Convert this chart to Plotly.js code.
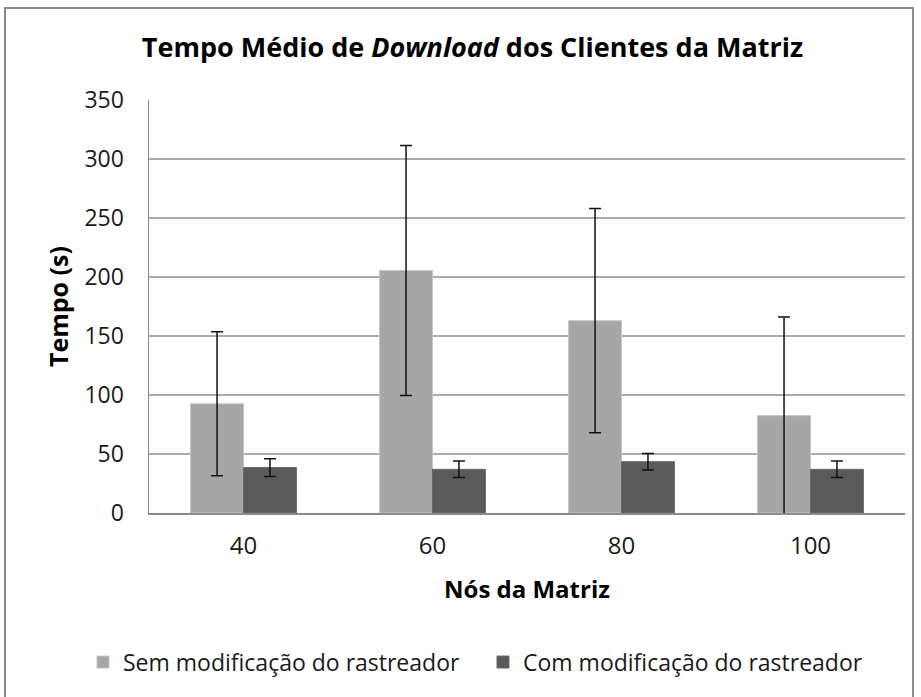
<!DOCTYPE html>
<html>
<head>
<meta charset="utf-8">
<script src="https://cdn.plot.ly/plotly-3.0.1.min.js"></script>
<style>
html,body{margin:0;padding:0;background:#fff;}
#chart{width:921px;height:697px;}
</style>
</head>
<body>
<div id="chart"></div>
<script>
var categories = ['40', '60', '80', '100'];
var semModificacao = [92.5, 205.5, 163, 82.5];
var semModificacaoErro = [61, 106, 95, 83.5];
var comModificacao = [38.5, 37, 43.5, 37];
var comModificacaoErro = [7.5, 7, 7, 7];
var serieNomes = ['Sem modificação do rastreador', 'Com modificação do rastreador'];

var FONT = '"Open Sans", "Noto Sans", sans-serif';

var traces = [
  {
    type: 'bar', name: serieNomes[0], x: categories, y: semModificacao,
    marker: {color: '#a6a6a6', line: {color: '#c4c4c4', width: 1}},
    error_y: {type: 'data', array: semModificacaoErro, visible: true, color: '#111', thickness: 1.5, width: 6}
  },
  {
    type: 'bar', name: serieNomes[1], x: categories, y: comModificacao,
    marker: {color: '#5a5a5a', line: {color: '#6a6a6a', width: 1}},
    error_y: {type: 'data', array: comModificacaoErro, visible: true, color: '#111', thickness: 1.5, width: 6}
  }
];

var layout = {
  width: 921, height: 697,
  margin: {l: 149, r: 16, t: 100, b: 184},
  paper_bgcolor: '#fff', plot_bgcolor: '#fff',
  font: {family: FONT, color: '#1a1a1a'},
  title: {
    text: '<b>Tempo Médio de <i>Download</i> dos Clientes da Matriz</b>',
    font: {family: FONT, size: 27, color: '#000'},
    x: 0.513, xref: 'container', xanchor: 'center',
    y: 1 - 48 / 697, yref: 'container', yanchor: 'middle'
  },
  barmode: 'group', bargap: 0.44, bargroupgap: 0,
  showlegend: true,
  legend: {
    orientation: 'h', x: (83 - 149) / 756, xanchor: 'left', y: -0.361, yanchor: 'middle',
    font: {family: FONT, size: 23, color: '#1a1a1a'},
    itemwidth: 30, traceorder: 'normal',
    entrywidth: 355, entrywidthmode: 'pixels'
  },
  xaxis: {
    type: 'category',
    showline: true, linecolor: '#8c8c8c', linewidth: 1.5,
    showgrid: false, zeroline: false, ticks: '',
    ticklabelstandoff: 11,
    tickfont: {family: FONT, size: 24, color: '#1a1a1a'},
    title: {text: '<b>Nós da Matriz</b>', font: {family: FONT, size: 24, color: '#000'}, standoff: 21}
  },
  yaxis: {
    range: [0, 350], dtick: 50, tick0: 0,
    showline: true, linecolor: '#8c8c8c', linewidth: 1.5,
    showgrid: true, gridcolor: '#ababab', gridwidth: 1.5,
    zeroline: false, ticks: '',
    ticklabelstandoff: 19,
    tickfont: {family: FONT, size: 23, color: '#1a1a1a'},
    title: {text: '<b>Tempo (s)</b>', font: {family: FONT, size: 25, color: '#000'}, standoff: 8}
  },
  shapes: [{
    type: 'rect', xref: 'paper', yref: 'paper',
    x0: (5 - 149) / 756, x1: (913 - 149) / 756,
    y0: (513 - 702) / 413, y1: (513 - 8) / 413,
    line: {color: '#8a8a8a', width: 2}, fillcolor: 'rgba(0,0,0,0)', layer: 'below'
  }]
};

Plotly.newPlot('chart', traces, layout, {displayModeBar: false, staticPlot: true});
</script>
</body>
</html>
